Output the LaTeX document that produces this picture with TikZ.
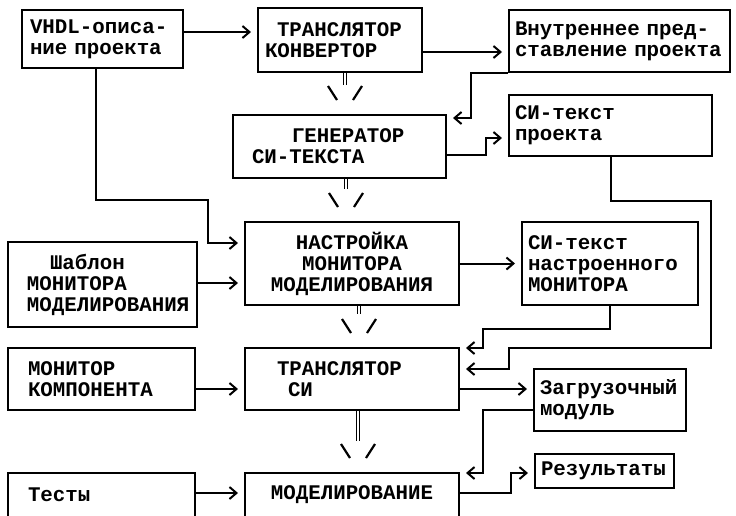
\documentclass[tikz,border=0pt]{standalone}
\usepackage{fontspec}
\setmonofont{Liberation Mono}
\usetikzlibrary{arrows.meta,calc}
\begin{document}
\begin{tikzpicture}[
x=1pt, y=-1pt,
blk/.style={draw, line width=2pt, rectangle, inner xsep=6pt, inner ysep=0pt, align=left,
  font=\ttfamily\bfseries\fontsize{20.8}{21}\selectfont},
arr/.style={line width=2pt, -{Straight Barb[length=7pt,width=12pt]}, shorten >=6pt},
dbl/.style={double, double distance=2pt, line width=1.2pt},
chev/.style={line width=2.2pt}
]
\useasboundingbox (0,0) rectangle (736,515);
\clip (0,0) rectangle (736,515);
\fill[white] (0,0) rectangle (736,515);

\node[blk, minimum width=161pt, minimum height=58pt, text width=149pt] (vhdl) at (102.5,39)
  {\hspace*{2pt}VHDL-описа-\\\hspace*{2pt}ние проекта};
\node[blk, minimum width=164pt, minimum height=64pt, text width=152pt] (tk) at (340,40)
  {\hspace*{13pt}ТРАНСЛЯТОР\\\hspace*{1pt}КОНВЕРТОР};
\node[blk, minimum width=221pt, minimum height=62pt, text width=209pt] (vnutr) at (619.5,41)
  {Внутреннее пред-\\ставление проекта};
\node[blk, minimum width=213pt, minimum height=63pt, text width=201pt] (gen) at (339.5,146.5)
  {\hspace*{53pt}ГЕНЕРАТОР\\\hspace*{13pt}СИ-ТЕКСТА};
\node[blk, minimum width=203pt, minimum height=61pt, text width=191pt] (sitext) at (610.5,125.5)
  {СИ-текст\\проекта};
\node[blk, align=center, minimum width=214pt, minimum height=83pt, text width=202pt] (nastr) at (352,263.5)
  {НАСТРОЙКА\\МОНИТОРА\\МОДЕЛИРОВАНИЯ};
\node[blk, minimum width=189pt, minimum height=85pt, text width=177pt] (shabl) at (102.5,284.5)
  {\hspace*{36pt}Шаблон\\\hspace*{13pt}МОНИТОРА\\\hspace*{13pt}МОДЕЛИРОВАНИЯ};
\node[blk, minimum width=176pt, minimum height=83pt, text width=164pt] (sinastr) at (610,263.5)
  {СИ-текст\\настроенного\\МОНИТОРА};
\node[blk, minimum width=187pt, minimum height=62pt, text width=175pt] (monkomp) at (101.5,379)
  {\hspace*{14pt}МОНИТОР\\\hspace*{14pt}КОМПОНЕНТА};
\node[blk, minimum width=214pt, minimum height=62pt, text width=202pt] (transsi) at (352,379)
  {\hspace*{26pt}ТРАНСЛЯТОР\\\hspace*{37pt}СИ};
\node[blk, minimum width=152pt, minimum height=62pt, text width=140pt] (zagr) at (610,400)
  {Загрузочный\\модуль};
\node[blk, minimum width=187pt, minimum height=44pt, text width=175pt] (testy) at (101.5,495)
  {\hspace*{14pt}Тесты};
\node[blk, align=center, minimum width=214pt, minimum height=44pt, text width=202pt] (model) at (352,495)
  {МОДЕЛИРОВАНИЕ};
\node[blk, minimum width=139pt, minimum height=34pt, text width=127pt] (rezult) at (604.5,471)
  {Результаты};

\draw[arr] ([yshift=7pt]vhdl.east) -- ([yshift=8pt]tk.west);
\draw[arr] ([yshift=-12pt]tk.east) -- ([yshift=-11pt]vnutr.west);
\draw[arr] (vnutr.south west) -- ++(-37,0) |- ([yshift=28.5pt]gen.east);
\draw[arr] ([yshift=-8.5pt]gen.east) -- ++(39,0) |- ([yshift=-12.5pt]sitext.west);
\draw[arr] ([xshift=-6.5pt]vhdl.south) -- ++(0,131) -- ++(112,0) |- ([yshift=20.5pt]nastr.west);
\draw[arr] ([yshift=1.5pt]shabl.east) -- ([yshift=-19.5pt]nastr.west);
\draw[arr] (nastr.east) -- (sinastr.west);
\draw[arr] (sitext.south) -- ++(0,44) -- ++(100,0) -- ++(0,147) -- ++(-202,0) |- ([yshift=10pt]transsi.east);
\draw[arr] (sinastr.south) -- ++(0,23) -- ++(-127,0) |- ([yshift=31pt]transsi.east);
\draw[arr] ([yshift=-10pt]transsi.east) -- ([yshift=11pt]zagr.west);
\draw[arr] ([yshift=-10pt]zagr.west) -- ++(-50,0) |- ([yshift=22pt]model.east);
\draw[arr] ([yshift=2pt]model.east) -- ++(51,0) |- ([yshift=-2pt]rezult.west);
\draw[arr] ([yshift=-10pt]monkomp.east) -- ([yshift=-10pt]transsi.west);
\draw[arr] ([yshift=2pt]testy.east) -- ([yshift=2pt]model.west);

\foreach \a/\b/\dx/\l in {tk/gen/5/12, gen/nastr/6.5/10, nastr/transsi/7/8, transsi/model/6/30} {
  \draw[dbl] ([xshift=\dx pt]\a.south) -- ++(0,\l);
  \coordinate (tip) at ([xshift=\dx pt]\a.south |- \b.north);
  \draw[chev] ($(tip)+(-17,-28)$) -- ++(9,14) ($(tip)+(17,-28)$) -- ++(-9,14);
}
\end{tikzpicture}
\end{document}
